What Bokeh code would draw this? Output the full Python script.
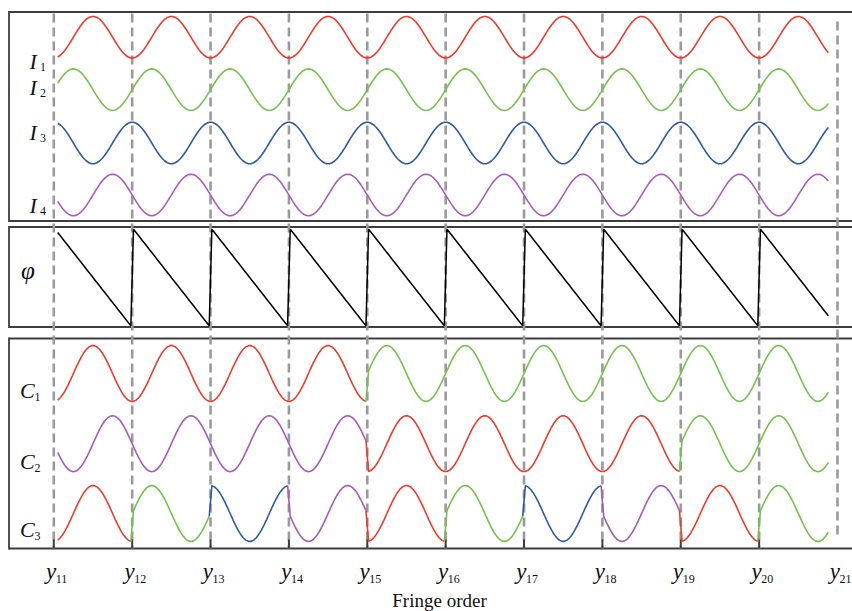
import numpy as np
from bokeh.plotting import figure
from bokeh.models import Range1d
from bokeh.core.properties import value
from bokeh.embed import file_html
from bokeh.resources import INLINE

# ---------------- data ----------------
fringe_orders = list(range(11, 22))              # y11 ... y21
tick_subscripts = [str(n) for n in fringe_orders]
t_start, t_end, t_step = 11.05, 20.91, 1.0 / 30.0  # sampled fringe positions

# four phase-shifted intensity patterns (name -> (colour, kind))
pattern_names = ["I1", "I2", "I3", "I4"]
pattern_kinds = ["-cos", "sin", "cos", "-sin"]
pattern_colors = ["#ee3b2b", "#76c24f", "#2f5aa8", "#a65cb8"]

# colour code assigned to each fringe period (11-12, 12-13, ..., 20-21)
C1_codes = ["I1", "I1", "I1", "I1", "I2", "I2", "I2", "I2", "I2", "I2"]
C2_codes = ["I4", "I4", "I4", "I4", "I1", "I1", "I1", "I1", "I2", "I2"]
C3_codes = ["I1", "I2", "I3", "I4", "I1", "I2", "I3", "I4", "I1", "I2"]

# ---------------- layout helpers ----------------
X0_PX, DX_PX = 53.3, 78.37  # page px of y11 and px per fringe


def xd(px):
    return 11 + (px - X0_PX) / DX_PX


t = np.arange(t_start, t_end, t_step)


def pattern(kind, tt):
    ph = 2 * np.pi * tt
    return {"-cos": -np.cos(ph), "sin": np.sin(ph),
            "cos": np.cos(ph), "-sin": -np.sin(ph)}[kind]


kind_of = dict(zip(pattern_names, pattern_kinds))
color_of = dict(zip(pattern_names, pattern_colors))

p = figure(width=852, height=611,
           x_range=Range1d(xd(0), xd(852)), y_range=Range1d(611, 0),
           output_backend="svg", toolbar_location=None, tools="",
           x_axis_type=None, y_axis_type=None, min_border=0,
           outline_line_color=None)
p.background_fill_color = "white"
p.border_fill_color = "white"

BORDER = "#3d3d3d"
# panel boxes (open on the right, as in the cropped original)
panel_tops = [11.5, 226.5, 338.0]
panel_bots = [220.5, 326.5, 548.0]
p.segment(x0=[xd(8.5)] * 6, x1=[xd(852)] * 6,
          y0=panel_tops + panel_bots, y1=panel_tops + panel_bots,
          line_color=BORDER, line_width=1.8, line_cap="butt")
p.segment(x0=[xd(8.5)] * 3, x1=[xd(8.5)] * 3, y0=panel_tops, y1=panel_bots,
          line_color=BORDER, line_width=1.8, line_cap="square")

# dashed fringe boundaries
for n in fringe_orders:
    if n < fringe_orders[-1]:
        p.segment(x0=[n], x1=[n], y0=[13], y1=[548], line_color="#9a9a9a",
                  line_width=2.6, line_dash="9 5")
    else:
        p.segment(x0=[n], x1=[n], y0=[21], y1=[538], line_color="#9a9a9a",
                  line_width=2.6, line_dash="9 5")
# bottom inward ticks
p.segment(x0=fringe_orders[:-1], x1=fringe_orders[:-1],
          y0=[539] * 10, y1=[548] * 10, line_color=BORDER, line_width=2)

# top panel: intensity patterns
I_centers = [36.7, 89.2, 142.5, 194.5]
I_amp = 20.8
for name, cy in zip(pattern_names, I_centers):
    v = pattern(kind_of[name], t)
    p.line(t, cy - I_amp * v, line_color=color_of[name], line_width=1.6)

# middle panel: wrapped phase (sawtooth)
phi = np.pi - 2 * np.pi * np.mod(t, 1.0)
p.line(t, 277 - 50 * phi / np.pi, line_color="black", line_width=1.5)

# bottom panel: code words
C_centers = [373.0, 443.2, 513.0]
C_amp = 28.0
for codes, cy in zip([C1_codes, C2_codes, C3_codes], C_centers):
    idx = np.clip(np.floor(t - 11).astype(int), 0, len(codes) - 1)
    labels = [codes[i] for i in idx]
    vals = np.array([pattern(kind_of[lab], tt) for lab, tt in zip(labels, t)])
    start = 0
    for i in range(1, len(t) + 1):
        if i == len(t) or labels[i] != labels[start]:
            s0 = max(start - 1, 0)
            p.line(t[s0:i], cy - C_amp * vals[s0:i],
                   line_color=color_of[labels[start]], line_width=1.6)
            start = i

# ---------------- text ----------------
SERIF = value("Liberation Serif")
main_lbl = [("I", 29.0, 60.5, "1"), ("I", 29.0, 86.5, "2"),
            ("I", 29.0, 131.5, "3"), ("I", 29.0, 204.5, "4"),
            ("C", 19.5, 390.0, "1"), ("C", 19.5, 461.0, "2"),
            ("C", 19.5, 529.0, "3")]
for letter, xpx, ypx, sub in main_lbl:
    p.text(x=[xd(xpx)], y=[ypx], text=[letter], text_font=SERIF,
           text_font_style="italic", text_font_size="22px",
           text_align="left", text_baseline="alphabetic", text_color="#111111")
    xs = xpx + (10.5 if letter == "I" else 14.5)
    p.text(x=[xd(xs)], y=[ypx + 6], text=[sub], text_font=SERIF,
           text_font_size="12px", text_align="left",
           text_baseline="alphabetic", text_color="#111111")

p.text(x=[xd(27.5)], y=[270], text=["φ"], text_font=SERIF,
       text_font_style="italic", text_font_size="25px", text_align="center",
       text_baseline="middle", text_color="#111111")

p.text(x=[n + 2.5 / DX_PX for n in fringe_orders], y=[571] * len(fringe_orders),
       text=["y"] * len(fringe_orders), text_font=SERIF,
       text_font_style="italic", text_font_size="23px", text_align="right",
       text_baseline="alphabetic", text_color="#111111")
p.text(x=[n + 2.0 / DX_PX for n in fringe_orders], y=[578] * len(fringe_orders),
       text=tick_subscripts, text_font=SERIF, text_font_size="12px",
       text_align="left", text_baseline="alphabetic", text_color="#111111")

p.text(x=[xd(439)], y=[600], text=["Fringe order"], text_font=SERIF,
       text_font_size="19px", text_align="center", text_baseline="alphabetic",
       text_color="#111111")

open("out.html", "w").write(file_html(p, INLINE))
